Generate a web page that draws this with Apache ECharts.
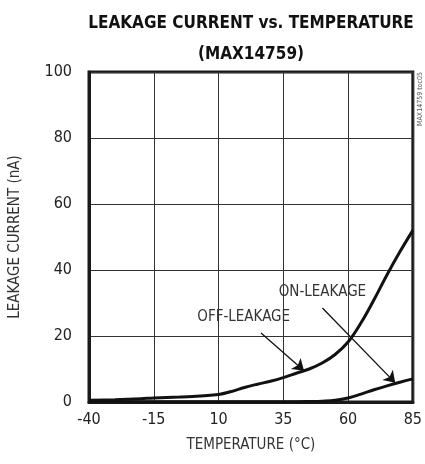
<!DOCTYPE html>
<html><head><meta charset="utf-8">
<script src="https://cdn.jsdelivr.net/npm/echarts@6/dist/echarts.min.js"></script>
<style>html,body{margin:0;padding:0;background:#fff}#c{width:425px;height:464px}</style>
</head><body><div id="c"></div>
<script>
const xTicks = [-40, -15, 10, 35, 60, 85];
const temps = [-40, -30, -20, -15, -5, 0, 10, 15, 20, 25, 30, 35, 40, 45, 50, 55, 60, 65, 70, 75, 80, 85];
const offLeakage = [0.5, 0.7, 1.0, 1.2, 1.5, 1.7, 2.3, 3.2, 4.4, 5.4, 6.3, 7.4, 8.7, 10.0, 11.8, 14.4, 18.2, 24.0, 31.0, 38.5, 45.5, 52.0];
const onLeakage = [0.1, 0.1, 0.1, 0.1, 0.1, 0.1, 0.1, 0.1, 0.1, 0.1, 0.1, 0.1, 0.1, 0.15, 0.25, 0.5, 1.2, 2.4, 3.7, 4.9, 6.0, 7.0];
const offLabel = {text: 'OFF-LEAKAGE', at: [19.7, 25.8], from: [26.4, 20.9], to: [43.0, 9.5]};
const onLabel = {text: 'ON-LEAKAGE', at: [50.1, 33.3], from: [50.1, 28.5], to: [78.2, 5.8]};

const FONT = "'DejaVu Sans Condensed', 'Liberation Sans Narrow', sans-serif";
const chart = echarts.init(document.getElementById('c'), null, {renderer: 'canvas'});
const pair = (xs, ys) => xs.map((x, i) => [x, ys[i]]);
const arrowLine = (a) => ({
  symbol: ['none', 'arrow'], symbolSize: 11, silent: true,
  lineStyle: {color: '#111', width: 1.3, type: 'solid'},
  label: {show: false},
  data: [[{coord: a.from}, {coord: a.to}]]
});
const textPoint = (a) => ({
  symbol: 'circle', symbolSize: 1, silent: true,
  itemStyle: {color: 'rgba(0,0,0,0)'},
  label: {show: true, position: 'inside', formatter: a.text, color: '#333', fontFamily: FONT, fontSize: 15},
  data: [{coord: a.at, value: 0}]
});
chart.setOption({
  animation: false,
  title: {
    text: 'LEAKAGE CURRENT vs. TEMPERATURE\n(MAX14759)',
    left: 246, top: 3, textAlign: 'center',
    textStyle: {fontFamily: FONT, fontWeight: 'bold', fontSize: 17, lineHeight: 31, color: '#111'}
  },
  grid: {left: 83, right: 9, top: 72, bottom: 62, show: true, borderColor: '#1a1a1a', borderWidth: 3, containLabel: false},
  xAxis: {
    type: 'value', min: -40, max: 85, interval: 25,
    name: 'TEMPERATURE (°C)', nameLocation: 'middle', nameGap: 36,
    nameTextStyle: {fontFamily: FONT, fontSize: 15, color: '#333'},
    axisLine: {show: true, onZero: false, lineStyle: {color: '#1a1a1a', width: 3}},
    axisTick: {show: false},
    axisLabel: {fontFamily: FONT, fontSize: 16, color: '#222', margin: 10},
    splitLine: {show: true, lineStyle: {color: '#333', width: 1}}
  },
  yAxis: {
    type: 'value', min: 0, max: 100, interval: 20,
    name: 'LEAKAGE CURRENT (nA)', nameLocation: 'middle', nameGap: 66,
    nameTextStyle: {fontFamily: FONT, fontSize: 15, color: '#333'},
    axisLine: {show: true, onZero: false, lineStyle: {color: '#1a1a1a', width: 3}},
    axisTick: {show: false},
    axisLabel: {fontFamily: FONT, fontSize: 16, color: '#222', margin: 17},
    splitLine: {show: true, lineStyle: {color: '#333', width: 1}}
  },
  graphic: [{
    type: 'text', left: 417, top: 72, rotation: Math.PI / 2,
    style: {text: 'MAX14759 toc05', fontFamily: FONT, fontSize: 7, fill: '#555'}
  }],
  series: [
    {type: 'line', name: 'OFF', data: pair(temps, offLeakage), smooth: 0.4, symbol: 'none',
     lineStyle: {color: '#111', width: 3}, markLine: arrowLine(offLabel), markPoint: textPoint(offLabel)},
    {type: 'line', name: 'ON', data: pair(temps, onLeakage), smooth: 0.4, symbol: 'none',
     lineStyle: {color: '#111', width: 3}, markLine: arrowLine(onLabel), markPoint: textPoint(onLabel)}
  ]
});
</script></body></html>
